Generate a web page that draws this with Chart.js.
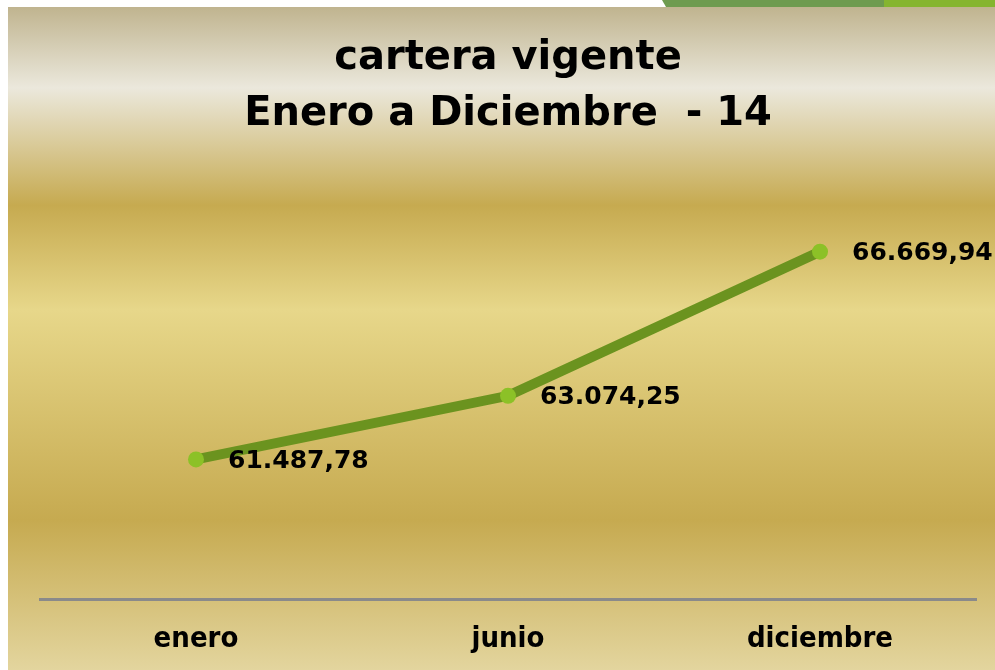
<!DOCTYPE html>
<html lang="es">
<head>
    <meta charset="UTF-8">
    <title>cartera vigente</title>
    <script src="https://cdn.jsdelivr.net/npm/chart.js@4.4.1/dist/chart.umd.min.js"></script>
    <style>
        html, body { margin: 0; padding: 0; background: #fff; }
        body { width: 995px; height: 670px; position: relative; overflow: hidden; }
        .verde1 { position: absolute; top: 0; left: 662px; width: 222px; height: 7px; background: #6e9b4f;
                  clip-path: polygon(0 0, 100% 0, 100% 100%, 4px 100%); }
        .verde2 { position: absolute; top: 0; left: 884px; width: 111px; height: 7px; background: #85b530; }
        #cartera { position: absolute; left: 8px; top: 7px;
                   background: linear-gradient(to bottom, #c0b48f 0%, #ebe8dc 12.2%, #c6aa50 29.9%, #e7d78a 45.7%, #c6aa50 77.4%, #e3d59e 100%); }
    </style>
</head>
<body>
    <div class="verde1"></div>
    <div class="verde2"></div>
    <canvas id="cartera" width="987" height="663"></canvas>
    <script>
        // datos
        const meses = ['enero', 'junio', 'diciembre'];
        const valores = [61487.78, 63074.25, 66669.94];
        const etiquetas = ['61.487,78', '63.074,25', '66.669,94'];

        // etiquetas de valor a la derecha de cada punto
        const etiquetasPlugin = {
            id: 'etiquetas',
            afterDatasetsDraw(chart) {
                const ctx = chart.ctx;
                const meta = chart.getDatasetMeta(0);
                ctx.save();
                ctx.font = 'bold 25px "DejaVu Sans"';
                ctx.fillStyle = '#000';
                ctx.textAlign = 'left';
                ctx.textBaseline = 'middle';
                meta.data.forEach((pt, i) => {
                    ctx.fillText(etiquetas[i], pt.x + 32, pt.y + 2);
                });
                ctx.restore();
            }
        };

        new Chart(document.getElementById('cartera'), {
            type: 'line',
            data: {
                labels: meses,
                datasets: [{
                    data: valores,
                    borderColor: '#6b931f',
                    borderWidth: 10,
                    borderCapStyle: 'round',
                    pointRadius: 8,
                    pointBackgroundColor: '#8cc127',
                    pointBorderWidth: 0,
                    tension: 0
                }]
            },
            options: {
                responsive: false,
                animation: false,
                devicePixelRatio: 1,
                layout: { padding: { left: 32, right: 19, top: 0, bottom: -10 } },
                plugins: {
                    legend: { display: false },
                    tooltip: { enabled: false },
                    title: {
                        display: true,
                        fullSize: false,
                        text: ['cartera vigente', 'Enero a Diciembre  - 14'],
                        color: '#000',
                        font: { family: '"DejaVu Sans"', size: 40, weight: 'bold', lineHeight: 1.39 },
                        padding: { top: 24, bottom: 0 }
                    }
                },
                scales: {
                    x: {
                        offset: true,
                        grid: { display: false, drawTicks: false },
                        border: { display: true, color: '#8a8a8a', width: 3 },
                        ticks: {
                            color: '#000',
                            padding: 23,
                            font: { family: '"DejaVu Sans Condensed"', size: 29, weight: 'bold' }
                        }
                    },
                    y: {
                        display: false,
                        min: 58000,
                        max: 69400
                    }
                }
            },
            plugins: [etiquetasPlugin]
        });
    </script>
</body>
</html>
